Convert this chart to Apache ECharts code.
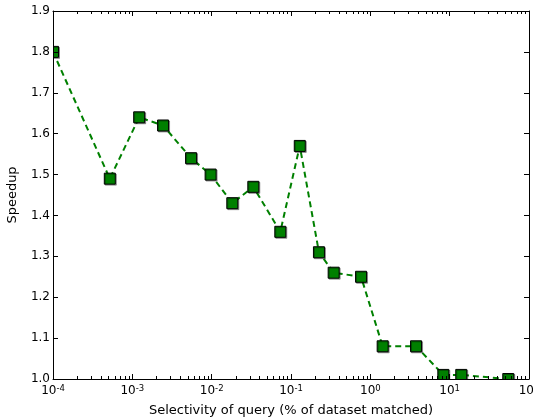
<!DOCTYPE html>
<html><head><meta charset="utf-8">
<script src="https://cdn.jsdelivr.net/npm/echarts@6/dist/echarts.min.js"></script>
<style>html,body{margin:0;padding:0;background:#fff}#c{width:533px;height:420px}</style>
</head><body><div id="c"></div>
<script>
// Data
const selectivity = [1.0e-4, 5.2e-4, 1.22e-3, 2.44e-3, 5.5e-3, 9.7e-3, 1.82e-2, 3.35e-2, 0.0733, 0.129, 0.225, 0.345, 0.764, 1.43, 3.77, 8.32, 14.0, 54.8];
const speedup = [1.80, 1.49, 1.64, 1.62, 1.54, 1.50, 1.43, 1.47, 1.36, 1.57, 1.31, 1.26, 1.25, 1.08, 1.08, 1.01, 1.01, 1.00];
const xRange = [1e-4, 1e2];
const yRange = [1.0, 1.9];
const yStep = 0.1;
const xTitle = 'Selectivity of query (% of dataset matched)';
const yTitle = 'Speedup';

const FONT = 'DejaVu Sans';
const expMin = Math.round(Math.log10(xRange[0])), expMax = Math.round(Math.log10(xRange[1]));
const minorTickValues = [];
for (let n = expMin; n < expMax; n++) for (let k = 2; k <= 9; k++) minorTickValues.push(k * Math.pow(10, n));

const series = selectivity.map((x, i) => [x, speedup[i]]);

const chart = echarts.init(document.getElementById('c'), null, {renderer: 'canvas'});
const boxLine = {show: true, onZero: false, lineStyle: {color: '#000', width: 1}};
const majorTick = {show: true, inside: true, length: 5, lineStyle: {color: '#000', width: 1}};
chart.setOption({
  animation: false,
  backgroundColor: '#fff',
  grid: {left: 53, right: 4, top: 11, bottom: 41, containLabel: false, outerBoundsMode: 'none'},
  graphic: {elements: [
    {type: 'rect', z: 100, silent: true, shape: {x: 0, y: 0, width: 53, height: 420}, style: {fill: '#fff'}},
    {type: 'rect', z: 100, silent: true, shape: {x: 0, y: 379.5, width: 533, height: 41}, style: {fill: '#fff'}}
  ]},
  xAxis: [
    {type: 'log', logBase: 10, position: 'bottom', min: xRange[0], max: xRange[1], z: 200,
     name: xTitle, nameLocation: 'middle', nameGap: 25,
     nameTextStyle: {fontFamily: FONT, fontSize: 13, color: '#000'},
     axisLine: boxLine, axisTick: majorTick, splitLine: {show: false},
     axisLabel: {show: true, showMinLabel: true, showMaxLabel: true, margin: 5,
       formatter: v => '{b|10}{s|' + Math.round(Math.log10(v)) + '}',
       rich: {b: {fontFamily: FONT, fontSize: 12, color: '#000', lineHeight: 14},
              s: {fontFamily: FONT, fontSize: 8.5, color: '#000', lineHeight: 14, verticalAlign: 'top', padding: [0, 0, 5, 0]}}}},
    {type: 'log', logBase: 10, position: 'top', min: xRange[0], max: xRange[1], z: 200,
     axisLine: boxLine, axisTick: majorTick, splitLine: {show: false}, axisLabel: {show: false}}
  ],
  yAxis: [
    {type: 'value', position: 'left', min: yRange[0], max: yRange[1], interval: yStep, z: 200,
     name: yTitle, nameLocation: 'middle', nameGap: 34,
     nameTextStyle: {fontFamily: FONT, fontSize: 13, color: '#000'},
     axisLine: boxLine, axisTick: majorTick, splitLine: {show: false},
     axisLabel: {fontFamily: FONT, fontSize: 12, color: '#000', margin: 3, formatter: v => v.toFixed(1)}},
    {type: 'value', position: 'right', min: yRange[0], max: yRange[1], interval: yStep, z: 200,
     axisLine: boxLine, axisTick: majorTick, splitLine: {show: false}, axisLabel: {show: false}}
  ],
  series: [{
    type: 'line', xAxisIndex: 0, yAxisIndex: 0, data: series, clip: false, z: 1,
    symbol: 'rect', symbolSize: 11, showAllSymbol: true,
    lineStyle: {color: '#008000', width: 2, type: [6, 4]},
    itemStyle: {color: '#008000', borderColor: '#000', borderWidth: 1,
      shadowColor: 'rgba(0,0,0,0.35)', shadowOffsetX: 1, shadowOffsetY: 1, shadowBlur: 0}
  }, {
    // minor ticks of the log x axis (top and bottom), placed through the axis scale
    type: 'custom', coordinateSystem: 'cartesian2d', xAxisIndex: 0, yAxisIndex: 0, z: 201, silent: true, clip: false,
    encode: {x: 0, y: 1},
    data: minorTickValues.map(v => [v, yRange[0]]),
    renderItem: (params, api) => {
      const pb = api.coord([api.value(0), yRange[0]]);
      const pt = api.coord([api.value(0), yRange[1]]);
      const x = Math.round(pb[0]) + 0.5;
      const st = {stroke: '#000', lineWidth: 1};
      return {type: 'group', children: [
        {type: 'line', shape: {x1: x, y1: pb[1], x2: x, y2: pb[1] - 3}, style: st},
        {type: 'line', shape: {x1: x, y1: pt[1], x2: x, y2: pt[1] + 3}, style: st}
      ]};
    }
  }]
});
</script></body></html>
